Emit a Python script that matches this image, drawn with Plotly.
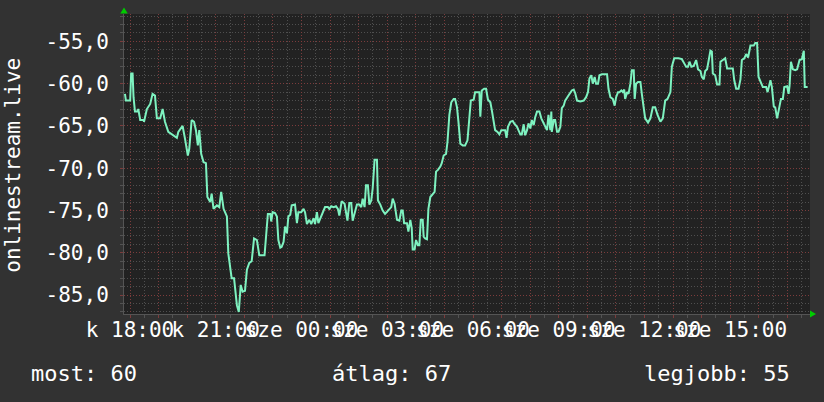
import datetime as dt
import plotly.graph_objects as go

# ---- data (minutes after window start, value) ----
start = dt.datetime(2024, 1, 2, 17, 47, 24)  # kedd (Tuesday)
minutes = [
    2, 4, 13, 15, 18, 20, 23, 28, 30, 34, 41, 42, 48, 55, 60, 65, 69, 76, 81, 86,
    93, 104, 111, 114, 123, 128, 134, 137, 142, 147, 151, 155, 158, 162, 167, 172,
    175, 181, 184, 188, 195, 200, 204, 209, 216, 219, 226, 231, 237, 241, 245, 249,
    254, 258, 263, 268, 273, 279,
    284, 295, 298, 302, 307, 309, 312, 317, 321, 324, 328, 331, 335, 338, 342, 345,
    349, 352, 359, 363, 366, 372, 377, 380, 384, 389, 393, 398, 401, 405, 408, 414,
    419, 422, 428, 431, 435, 440, 445, 449, 452, 457, 463, 466, 469, 473, 477, 480,
    484, 489, 494, 498, 501, 505, 508, 512, 515, 519, 522, 526, 531, 533, 538, 543,
    548, 555, 561, 564, 568,
    573, 578, 582, 585, 588, 594, 597, 601, 604, 606, 610, 613, 617, 620, 623, 627,
    629, 632, 636, 639, 643, 648, 652, 655, 659, 664, 667, 671, 676, 679, 683, 687,
    692, 695, 699, 702, 706, 711, 716, 721, 725, 728, 734, 737, 742, 746, 748, 751,
    756, 760, 764, 769, 772, 776, 779, 784, 788, 792, 797, 800, 803, 806, 811, 816,
    819, 825, 828, 832, 835, 839,
    842, 846, 849, 853, 856, 860, 863, 867, 872, 876, 881, 884, 888, 891, 895, 897,
    898, 902, 905, 909, 912, 916, 919, 923, 926, 933, 940, 944, 947, 951, 958, 965,
    970, 974, 977, 981, 984, 988, 991, 995, 998, 1003, 1014, 1017, 1021, 1026, 1030,
    1033, 1037, 1040, 1044, 1047, 1050, 1052, 1056, 1059, 1063, 1066, 1070, 1072,
    1075, 1079, 1084, 1087, 1091, 1094, 1100, 1105, 1110, 1115, 1120, 1126, 1131,
    1136, 1141, 1147, 1150, 1155, 1164, 1171, 1176, 1180, 1184, 1187, 1191, 1196,
    1201, 1205, 1210, 1213, 1217, 1220, 1224, 1227, 1231, 1234, 1236, 1241, 1245,
    1250, 1252, 1257, 1262, 1266, 1273, 1278, 1281, 1285, 1290, 1294, 1297, 1302,
    1306, 1310, 1315, 1322, 1325, 1329, 1332, 1337, 1341, 1348, 1351, 1357, 1360,
    1364, 1367, 1371, 1374, 1379, 1383, 1386, 1392, 1395, 1397, 1400, 1404, 1409,
    1413, 1418, 1423, 1427, 1429, 1435,
]
values = [
    -61.2, -62.0, -62.0, -58.8, -58.8, -61.6, -63.3, -63.3, -63.0, -64.3, -64.3, -64.5,
    -63.0, -62.4, -61.2, -61.4, -64.1, -64.1, -63.0, -64.5, -65.7, -66.1, -66.4, -65.7,
    -65.0, -66.5, -68.5, -67.7, -64.3, -64.5, -65.5, -67.3, -65.5, -68.3, -69.3, -69.4,
    -73.4, -74.0, -73.0, -74.8, -74.4, -74.6, -72.8, -74.8, -75.7, -80.1, -83.0, -83.0,
    -86.2, -87.0, -83.8, -84.6, -84.5, -82.0, -81.2, -81.0, -78.3, -78.5,
    -80.3, -80.3, -78.3, -75.4, -75.4, -76.3, -75.2, -75.3, -75.7, -78.5, -79.4, -79.3,
    -78.7, -76.9, -77.7, -75.7, -75.5, -74.4, -74.3, -76.5, -75.2, -75.2, -74.8, -75.2,
    -76.6, -76.1, -76.6, -75.9, -76.6, -75.2, -76.5, -75.6, -75.0, -74.6, -74.6, -74.8,
    -74.5, -74.6, -74.5, -74.8, -75.6, -73.9, -74.2, -75.2, -76.2, -74.1, -74.1, -76.2,
    -75.2, -74.3, -74.3, -74.6, -73.6, -74.6, -72.0, -72.0, -74.3, -73.8, -72.4, -69.0,
    -69.0, -73.8, -74.3, -75.0, -75.4, -75.0, -74.6, -73.6, -74.2,
    -76.1, -76.2, -75.0, -75.0, -76.5, -76.5, -77.5, -76.1, -77.1, -79.6, -79.6, -78.5,
    -79.1, -79.1, -76.1, -76.1, -78.1, -78.3, -78.4, -74.8, -73.4, -73.0, -72.8, -70.4,
    -70.2, -69.8, -69.4, -68.5, -68.3, -66.9, -63.7, -62.2, -61.8, -61.8, -62.8, -64.5,
    -67.1, -67.3, -67.3, -66.7, -63.7, -62.0, -61.9, -61.0, -61.0, -61.0, -63.9, -60.8,
    -60.6, -60.6, -61.9, -62.2, -63.1, -64.7, -65.5, -65.7, -66.0, -65.5, -65.5, -65.5,
    -66.4, -65.1, -64.5, -64.4, -64.7, -65.1, -65.5, -66.0, -66.0, -64.8,
    -66.1, -65.5, -64.7, -65.3, -64.3, -64.9, -64.0, -63.3, -63.3, -64.1, -64.7, -65.1,
    -65.5, -63.7, -65.5, -63.3, -65.7, -64.3, -64.3, -65.7, -65.7, -65.1, -62.9, -62.6,
    -62.0, -61.4, -60.8, -60.7, -61.1, -62.0, -62.1, -62.0, -61.6, -61.0, -59.4, -59.0,
    -60.0, -59.2, -60.0, -60.0, -59.0, -58.9, -58.9, -60.6, -61.6, -61.8, -62.6, -61.6,
    -61.0, -61.0, -60.8, -61.0, -60.7, -61.8, -61.0, -61.2, -60.0, -58.4, -58.4, -61.8,
    -60.0, -59.8, -59.8, -61.2, -62.9, -64.1, -64.6, -64.1, -62.8, -62.8, -63.7, -64.5,
    -64.1,
    -62.0, -61.8, -61.0, -58.0, -57.0, -57.0, -57.1, -57.6, -58.0, -58.0, -57.4, -58.0,
    -57.9, -57.2, -58.3, -58.5, -59.2, -59.5, -58.5, -58.3, -57.2, -56.1, -56.2, -58.8,
    -59.0, -60.1, -60.1, -57.4, -57.2, -57.0, -58.2, -58.2, -58.2, -59.6, -60.6, -60.6,
    -59.5, -57.2, -57.0, -56.5, -56.9, -55.5, -55.5, -55.2, -55.2, -59.2, -60.0, -60.4,
    -60.4, -61.0, -59.6, -60.4, -62.7, -62.8, -64.1, -63.1, -61.8, -61.8, -60.4, -60.3,
    -61.2, -60.3, -57.4, -58.3, -58.4, -58.3, -57.2, -57.1, -56.1, -60.4, -60.4,
]

y_ticks = [-85, -80, -75, -70, -65, -60, -55]
y_ticktext = ["-85,0", "-80,0", "-75,0", "-70,0", "-65,0", "-60,0", "-55,0"]
day_names = {1: "k", 2: "sze"}  # kedd, szerda
y_title = "onlinestream.live"
legend_texts = ["most: 60", "átlag: 67", "legjobb: 55"]

times = [start + dt.timedelta(minutes=m) for m in minutes]
end = start + dt.timedelta(hours=24)

first_hour = start.replace(minute=0, second=0) + dt.timedelta(hours=1)
x_ticks, x_ticktext = [], []
t = first_hour
while t < end:
    x_ticks.append(t)
    if t.hour % 3 == 0:
        x_ticktext.append(f"{day_names[t.weekday()]} {t.hour:02d}:00")
    else:
        x_ticktext.append("")
    t += dt.timedelta(hours=1)

FONT = "DejaVu Sans Mono"
MAJOR = "rgba(135,55,55,0.8)"
MINOR = "rgba(95,95,95,0.75)"

fig = go.Figure(go.Scatter(
    x=times, y=values, mode="lines",
    line=dict(color="#7ef2c0", width=2), hoverinfo="skip",
))

fig.update_layout(
    width=824, height=402,
    margin=dict(l=124, r=14, t=14, b=88),
    paper_bgcolor="#323232", plot_bgcolor="#222222",
    showlegend=False,
    font=dict(family=FONT, size=21, color="#ffffff"),
)
fig.update_xaxes(
    type="date", range=[start, end], automargin=False,
    tickmode="array", tickvals=x_ticks, ticktext=x_ticktext, tickangle=0,
    showgrid=True, gridcolor=MAJOR, griddash="1px,2px", gridwidth=1,
    ticks="outside", ticklen=3, tickcolor=MAJOR,
    ticklabelstandoff=-6,
    minor=dict(dtick=30 * 60 * 1000, showgrid=True, gridcolor=MINOR,
               griddash="1px,2px", ticks="outside", ticklen=3, tickcolor=MINOR),
    showline=True, linecolor="#555555", linewidth=1,
    zeroline=False, tickfont=dict(family=FONT, size=21, color="#ffffff"),
)
fig.update_yaxes(
    range=[-87.24, -51.76], automargin=False,
    tickmode="array", tickvals=y_ticks, ticktext=y_ticktext,
    showgrid=True, gridcolor=MAJOR, griddash="1px,2px", gridwidth=1,
    ticks="outside", ticklen=3, tickcolor=MAJOR,
    ticklabelstandoff=7,
    minor=dict(dtick=1, tick0=0, showgrid=True, gridcolor=MINOR,
               griddash="1px,2px", ticks="outside", ticklen=3, tickcolor=MINOR),
    showline=True, linecolor="#555555", linewidth=1,
    zeroline=False, tickfont=dict(family=FONT, size=21, color="#ffffff"),
)

# axis arrows
fig.add_shape(type="path", xref="paper", yref="paper",
              path="M -0.0055 1.0017 L 0.0055 1.0017 L 0 1.0216 Z",
              fillcolor="#00cc00", line=dict(width=0))
fig.add_shape(type="path", xref="paper", yref="paper",
              path="M 1.0 -0.0117 L 1.0 0.0117 L 1.0088 0 Z",
              fillcolor="#00cc00", line=dict(width=0))

fig.add_annotation(text=y_title, xref="paper", yref="paper", x=-0.162, y=0.497,
                   xanchor="center", yanchor="middle", textangle=-90, showarrow=False,
                   borderpad=0, font=dict(family=FONT, size=21, color="#ffffff"))
legend_x = [-0.1385, 0.3003, 0.9738]
legend_anchor = ["left", "left", "right"]
for txt, xp, anc in zip(legend_texts, legend_x, legend_anchor):
    fig.add_annotation(text=txt, xref="paper", yref="paper", x=xp, y=-0.1997,
                       xanchor=anc, yanchor="middle", showarrow=False,
                       font=dict(family=FONT, size=22, color="#ffffff"))

fig.write_html(
    "out.html",
    config={"displayModeBar": False},
    post_script="document.body.style.margin='0';document.body.style.background='#323232';",
)
